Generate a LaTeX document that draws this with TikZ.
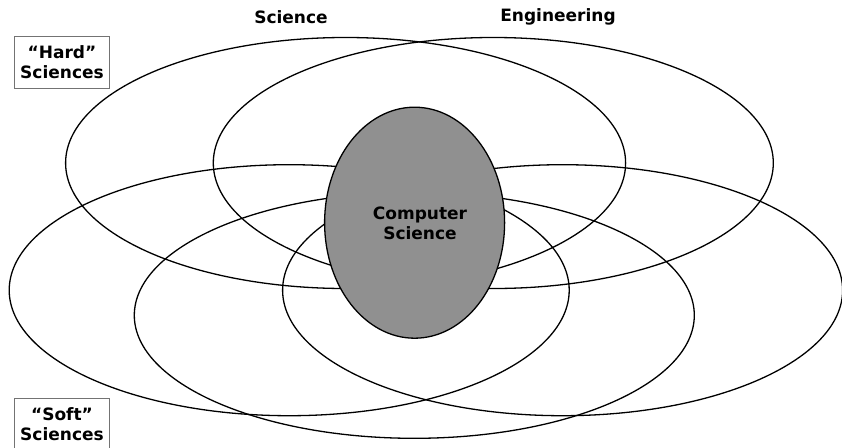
\documentclass[tikz,border=0pt]{standalone}
\usepackage{fontspec}
\setmainfont{DejaVu Sans}
\usetikzlibrary{shapes.geometric}
\definecolor{csgray}{RGB}{144,144,144}
\newcommand\ringrx{280}
\newcommand\ringry{125.5}

\begin{document}
\begin{tikzpicture}[x=1pt, y=-1pt]
	\tikzstyle{every node}=[font=\bfseries\fontsize{17}{20}\selectfont, align=center]
	\tikzstyle{ring}=[line width=1.3pt]
	\tikzstyle{sidebox}=[draw=black!55, line width=0.8pt, minimum width=95pt, minimum height=52pt, inner sep=0pt]
	\useasboundingbox (0,0) rectangle (842,447);

	%field centres
	\coordinate (sci) at (345.6,163);
	\coordinate (eng) at (493.3,163);
	\coordinate (softl) at (289.2,290.2);
	\coordinate (softr) at (562.6,290.2);
	\coordinate (softm) at (414.3,315.3);

	%hard sciences
	\draw[ring] (sci) ellipse [x radius=\ringrx, y radius=\ringry];
	\draw[ring] (eng) ellipse [x radius=\ringrx, y radius=\ringry];

	%soft sciences
	\draw[ring] (softl) ellipse [x radius=\ringrx, y radius=\ringry];
	\draw[ring] (softr) ellipse [x radius=\ringrx, y radius=\ringry];
	\draw[ring] (softm) ellipse [x radius=\ringrx, y radius=123];

	%computer science
	\node[ellipse, draw, fill=csgray, line width=1.3pt, minimum width=180pt, minimum height=231pt, inner sep=0pt] (cs) at (414.6,222.7) {};
	\node (cstext) at (420,223) {Computer\\Science};

	%labels
	\node (scilabel) at (291,17) {Science};
	\node (englabel) at (558,17) {Engineering};
	\node[sidebox] (hard) at (62,62) {“Hard”\\Sciences};
	\node[sidebox] (soft) at (62,424.2) {“Soft”\\Sciences};
\end{tikzpicture}
\end{document}
